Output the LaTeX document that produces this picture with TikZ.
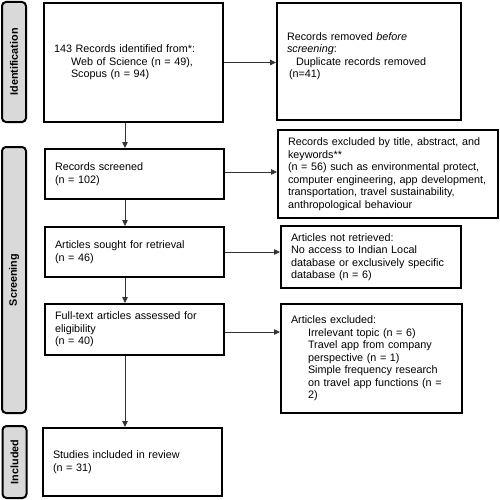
\documentclass[tikz,border=0pt]{standalone}
\usepackage{fontspec}
\setmainfont{Liberation Sans}
\usetikzlibrary{arrows.meta}
\begin{document}
\begin{tikzpicture}[x=1pt,y=-1pt]
    \tikzstyle{box}=[draw,line width=2pt,align=left,inner xsep=10pt,inner ysep=2pt,font=\fontsize{10.8}{12.5}\selectfont];
    \tikzstyle{phase}=[draw,line width=2pt,rounded corners=4pt,fill=black!15,rotate=90,minimum height=24pt,inner sep=0pt,font=\fontsize{10.8}{12.5}\selectfont\bfseries];
    \tikzstyle{arr}=[draw,line width=0.8pt,black!80,-{Triangle[length=6pt,width=5.5pt]}];
    \useasboundingbox (0,0) rectangle (499,500);

    % phases on the left
    \node at (14, 62)    (idbar)  [phase,minimum width=120pt] {Identification};
    \node at (14, 280)   (scrbar) [phase,minimum width=266pt] {Screening};
    \node at (14.5, 462) (incbar) [phase,minimum width=72pt]  {Included};

    % main column
    \node at (133.5, 62.5) (ident) [box,text width=159pt,minimum height=119pt]
        {143 Records identified from*:\\\hspace*{17pt}Web of Science (n = 49),\\\hspace*{17pt}Scopus (n = 94)};
    \node at (134.5, 174) (screened) [box,text width=159pt,minimum height=50pt]
        {Records screened\\(n = 102)};
    \node at (134.5, 252) (sought) [box,text width=159pt,minimum height=50pt]
        {Articles sought for retrieval\\(n = 46)};
    \node at (134.5, 329.5) (fulltext) [box,text width=159pt,minimum height=51pt]
        {Full-text articles assessed for\\eligibility\\(n = 40)};
    \node at (132.5, 462) (included) [box,text width=159pt,minimum height=68pt]
        {Studies included in review\\(n = 31)};

    % side column
    \node at (369, 61.5) (removed) [box,text width=164pt,minimum height=117pt]
        {Records removed \textit{before}\\\textit{screening}:\\\hspace*{9pt}Duplicate records removed\\\hspace*{2pt}(n=41)\\\mbox{}};
    \node at (388, 174) (excl) [box,text width=200pt,minimum height=88pt]
        {Records excluded by title, abstract, and\\keywords**\\(n = 56) such as environmental protect,\\computer engineering, app development,\\transportation, travel sustainability,\\anthropological behaviour};
    \node at (371, 257) (notret) [box,text width=160pt,minimum height=62pt]
        {Articles not retrieved:\\No access to Indian Local\\database or exclusively specific\\database (n = 6)};
    \node at (371.5, 358.5) (artexcl) [box,text width=161pt,minimum height=109pt]
        {Articles excluded:\\\hspace*{17pt}Irrelevant topic (n = 6)\\\hspace*{17pt}Travel app from company\\\hspace*{17pt}perspective (n = 1)\\\hspace*{17pt}Simple frequency research\\\hspace*{17pt}on travel app functions (n =\\\hspace*{17pt}2)};

    \coordinate (axis) at (125, 0);
    \draw[arr] (ident.south -| axis) to (screened.north -| axis);
    \draw[arr] (screened.south -| axis) to (sought.north -| axis);
    \draw[arr] (sought.south -| axis) to (fulltext.north -| axis);
    \draw[arr] (fulltext.south -| axis) to (included.north -| axis);

    \draw[arr] (ident.east) to (ident.east -| removed.west);
    \draw[arr] ([yshift=2pt]screened.east) to ([yshift=2pt]screened.east -| excl.west);
    \draw[arr] (sought.east) to (sought.east -| notret.west);
    \draw[arr] ([yshift=-2.5pt]fulltext.east) to ([yshift=-2.5pt]fulltext.east -| artexcl.west);
\end{tikzpicture}
\end{document}
